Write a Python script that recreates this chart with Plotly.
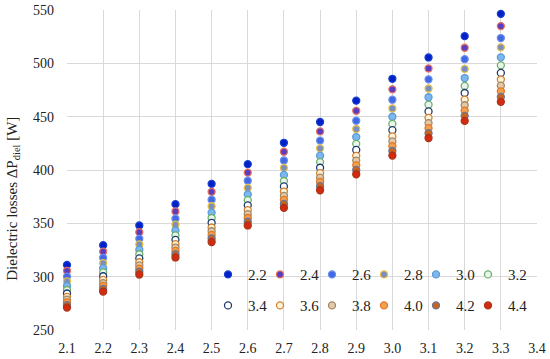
import plotly.graph_objects as go

x_vals = [2.1, 2.2, 2.3, 2.4, 2.5, 2.6, 2.7, 2.8, 2.9, 3.0, 3.1, 3.2, 3.3]
series_names = ["2.2", "2.4", "2.6", "2.8", "3.0", "3.2", "3.4", "3.6", "3.8", "4.0", "4.2", "4.4"]

# values per x column (rows = x, columns = series 2.2 ... 4.4)
col_21 = [311, 305.5, 300.1, 295.6, 291.2, 287.5, 284.2, 281.0, 278.4, 275.9, 273.4, 271.0]
col_22 = [329.5, 323.5, 317.7, 312.7, 308.0, 304.0, 300.4, 296.9, 294.0, 291.3, 288.6, 286.0]
col_23 = [348.0, 341.7, 335.5, 330.2, 325.3, 321.0, 317.2, 313.5, 310.5, 307.6, 304.8, 302.0]
col_24 = [368.0, 361.2, 354.4, 348.7, 343.3, 338.7, 334.5, 330.5, 327.3, 324.1, 321.0, 318.0]
col_25 = [387.0, 379.5, 372.2, 366.0, 360.1, 355.0, 350.5, 346.1, 342.6, 339.1, 335.8, 332.5]
col_26 = [405.5, 397.6, 389.9, 383.3, 377.1, 371.7, 366.9, 362.4, 358.6, 355.0, 351.5, 348.0]
col_27 = [425.5, 417.1, 408.9, 402.0, 395.4, 389.7, 384.6, 379.8, 375.8, 372.0, 368.2, 364.5]
col_28 = [445.0, 436.2, 427.6, 420.3, 413.4, 407.4, 402.1, 397.0, 392.8, 388.8, 384.8, 381.0]
col_29 = [465.0, 455.5, 446.2, 438.4, 430.9, 424.5, 418.8, 413.3, 408.8, 404.4, 400.1, 396.0]
col_30 = [485.5, 475.6, 465.9, 457.7, 449.9, 443.2, 437.3, 431.5, 426.8, 422.3, 417.8, 413.5]
col_31 = [505.5, 495.2, 485.0, 476.4, 468.2, 461.2, 454.9, 448.9, 444.0, 439.2, 434.5, 430.0]
col_32 = [525.5, 514.6, 503.9, 494.8, 486.2, 478.8, 472.2, 465.9, 460.7, 455.7, 450.8, 446.0]
col_33 = [546.4, 534.9, 523.7, 515.0, 505.6, 498.1, 491.0, 484.8, 479.1, 473.8, 468.5, 463.9]

columns = [col_21, col_22, col_23, col_24, col_25, col_26, col_27,
           col_28, col_29, col_30, col_31, col_32, col_33]

fill_colors = ["#0020C8", "#5A3CC0", "#4169E1", "#7B8FBF", "#7DB7F0", "#EAF5EA",
               "#FFFFFF", "#FFF3D6", "#E3C9A5", "#F2A050", "#C8641E", "#D42A10"]
line_colors = ["#1A3FD0", "#E8705A", "#6A8CF0", "#E8C040", "#5B9BD5", "#6AB06A",
               "#1F3A70", "#D08030", "#A08868", "#E07828", "#6A7898", "#A8361A"]

FONT = "Liberation Serif"

fig = go.Figure()
for k, name in enumerate(series_names):
    yv = [col[k] for col in columns]
    fig.add_trace(go.Scatter(
        x=x_vals, y=yv, mode="markers", name=name, cliponaxis=False,
        legend="legend" if k < 6 else "legend2",
        marker=dict(size=7, color=fill_colors[k],
                    line=dict(color=line_colors[k], width=1.3)),
    ))
    if k in (5, 11):
        # invisible spacer entry so the last label of each legend row is not clipped
        fig.add_trace(go.Scatter(
            x=[None], y=[None], mode="markers", name=" ", visible="legendonly",
            legend="legend" if k < 6 else "legend2",
            marker=dict(size=1, color="rgba(0,0,0,0)", line=dict(width=0)),
            hoverinfo="skip"))

fig.add_shape(type="rect", xref="paper", yref="paper",
              x0=0.336, x1=0.985, y0=0.039, y1=0.313,
              fillcolor="white", line=dict(width=0), layer="between")

legend_common = dict(orientation="h", xanchor="left", yanchor="middle",
                     bgcolor="rgba(0,0,0,0)", font=dict(family=FONT, size=15, color="#222"),
                     entrywidth=7, entrywidthmode="pixels", itemwidth=30,
                     tracegroupgap=0)

fig.update_layout(
    width=550, height=359,
    margin=dict(l=67, r=13, t=9.5, b=28.5, autoexpand=False),
    paper_bgcolor="white", plot_bgcolor="white",
    showlegend=True,
    legend=dict(x=0.30, y=0.173, **legend_common),
    legend2=dict(x=0.30, y=0.076, **legend_common),
    font=dict(family=FONT, size=14, color="#222"),
    xaxis=dict(range=[2.1, 3.4], tickmode="array",
               tickvals=[2.1 + 0.1 * i for i in range(14)],
               ticktext=[f"{2.1 + 0.1 * i:.1f}" for i in range(14)],
               showgrid=True, gridcolor="#D9D9D9", gridwidth=1,
               zeroline=False, showline=False, ticks="", automargin=False,
               ticklabelstandoff=8,
               tickfont=dict(family=FONT, size=14, color="#222")),
    yaxis=dict(range=[250, 550], tickmode="array",
               tickvals=[250, 300, 350, 400, 450, 500, 550],
               showgrid=True, gridcolor="#D9D9D9", gridwidth=1,
               zeroline=False, showline=False, ticks="", automargin=False,
               ticklabelstandoff=12,
               tickfont=dict(family=FONT, size=14, color="#222")),
    annotations=[dict(text="Dielectric losses ΔP<sub>diel</sub> [W]",
                      xref="paper", yref="paper", x=-0.115, y=0.41,
                      xanchor="center", yanchor="middle", textangle=-90,
                      showarrow=False,
                      font=dict(family=FONT, size=15, color="#222"))],
)

fig.write_html("out.html", config={"displayModeBar": False},
               post_script="document.body.style.margin='0';")
